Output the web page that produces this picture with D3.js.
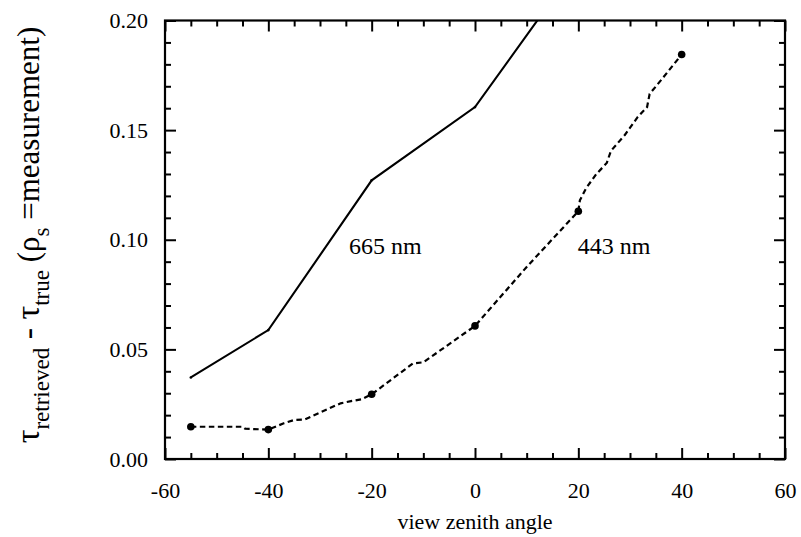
<!DOCTYPE html>
<html>
<head>
<meta charset="utf-8">
<script src="https://cdn.jsdelivr.net/npm/d3@7"></script>
<style>
  html, body { margin: 0; padding: 0; background: #fff; }
  svg { display: block; }
</style>
</head>
<body>
<svg id="chart" width="801" height="537"></svg>
<script>
// ---- data ----
const angles665 = [-55, -40, -20, 0, 20];
const values665 = [0.0372, 0.0588, 0.1271, 0.1605, 0.226];

const angles443 = [-55, -45, -44.5, -40, -37, -35, -33, -30, -26, -24, -22, -20, -12, -10, 0, 10, 20, 20.3, 21.5, 23.5, 25.5, 26.3, 29, 31.5, 33.3, 33.8, 36.5, 40];
const values443 = [0.0147, 0.0147, 0.0138, 0.0134, 0.0163, 0.0178, 0.0180, 0.0212, 0.0254, 0.0264, 0.0272, 0.0295, 0.0436, 0.0441, 0.0607, 0.0876, 0.113, 0.118, 0.1235, 0.1300, 0.1350, 0.1405, 0.1478, 0.1560, 0.1605, 0.1665, 0.1742, 0.1845];

const markerAngles443 = [-55, -40, -20, 0, 20, 40];
const markerValues443 = [0.0147, 0.0134, 0.0295, 0.0607, 0.113, 0.1845];

const xTicks = [-60, -40, -20, 0, 20, 40, 60];
const yTicks = [0.00, 0.05, 0.10, 0.15, 0.20];

const labels = ["665 nm", "443 nm"];
const labelAngles = [-24.4, 19.9];
const labelValues = [0.0935, 0.0935];

// ---- layout ----
const FONT = '"Liberation Serif", "Times New Roman", Times, "DejaVu Serif", serif';
const svg = d3.select("#chart");
const L = 165, R = 785, T = 20.5, B = 459;
const x = d3.scaleLinear().domain([-60, 60]).range([L, R]);
const y = d3.scaleLinear().domain([0, 0.2]).range([B, T]);

const fs = 22;
const majorLen = 11, minorLen = 6;
const xMinor = d3.range(-60, 61, 5).filter(v => !xTicks.includes(v));
const yMinor = d3.range(0, 21, 1).map(v => v / 100).filter(v => !yTicks.some(t => Math.abs(t - v) < 1e-9));

function styleAxis(g) {
  g.attr("font-family", null).attr("font-size", null);
  g.select(".domain").remove();
  g.selectAll(".tick line").attr("stroke", "#000").attr("stroke-width", 2);
  g.selectAll(".tick text").style("font-family", FONT).style("font-size", fs + "px").attr("fill", "#000");
}

// bottom
svg.append("g").attr("transform", `translate(0,${B})`)
  .call(d3.axisBottom(x).tickValues(xTicks).tickSize(-majorLen).tickPadding(majorLen + 12).tickFormat(d => String(d)))
  .call(styleAxis);
svg.append("g").attr("transform", `translate(0,${B})`)
  .call(d3.axisBottom(x).tickValues(xMinor).tickSize(-minorLen).tickFormat(""))
  .call(styleAxis);
// top
svg.append("g").attr("transform", `translate(0,${T})`)
  .call(d3.axisTop(x).tickValues(xTicks).tickSize(-majorLen).tickFormat(""))
  .call(styleAxis);
svg.append("g").attr("transform", `translate(0,${T})`)
  .call(d3.axisTop(x).tickValues(xMinor).tickSize(-minorLen).tickFormat(""))
  .call(styleAxis);
// left
svg.append("g").attr("transform", `translate(${L},0)`)
  .call(d3.axisLeft(y).tickValues(yTicks).tickSize(-majorLen).tickPadding(majorLen + 6).tickFormat(d3.format(".2f")))
  .call(styleAxis);
svg.append("g").attr("transform", `translate(${L},0)`)
  .call(d3.axisLeft(y).tickValues(yMinor).tickSize(-minorLen).tickFormat(""))
  .call(styleAxis);
// right
svg.append("g").attr("transform", `translate(${R},0)`)
  .call(d3.axisRight(y).tickValues(yTicks).tickSize(-majorLen).tickFormat(""))
  .call(styleAxis);
svg.append("g").attr("transform", `translate(${R},0)`)
  .call(d3.axisRight(y).tickValues(yMinor).tickSize(-minorLen).tickFormat(""))
  .call(styleAxis);

// frame
svg.append("rect").attr("x", L).attr("y", T).attr("width", R - L).attr("height", B - T)
  .attr("fill", "none").attr("stroke", "#000").attr("stroke-width", 2.2);

// clip
svg.append("clipPath").attr("id", "clip").append("rect")
  .attr("x", L).attr("y", T).attr("width", R - L).attr("height", B - T);

const line = d3.line().x(d => x(d[0])).y(d => y(d[1]));
const plot = svg.append("g").attr("clip-path", "url(#clip)");

const d665 = angles665.map((a, i) => [a, values665[i]]);
plot.append("path").attr("d", line(d665))
  .attr("fill", "none").attr("stroke", "#000").attr("stroke-width", 2.1);
plot.selectAll("circle.v665").data(d665.slice(0, 4)).enter().append("circle")
  .attr("cx", d => x(d[0])).attr("cy", d => y(d[1])).attr("r", 1.3).attr("fill", "#000");

const d443 = angles443.map((a, i) => [a, values443[i]]);
plot.append("path").attr("d", line(d443))
  .attr("fill", "none").attr("stroke", "#000").attr("stroke-width", 2.2)
  .attr("stroke-dasharray", "5.5,3.5");
plot.selectAll("circle.m443").data(markerAngles443.map((a, i) => [a, markerValues443[i]])).enter().append("circle")
  .attr("cx", d => x(d[0])).attr("cy", d => y(d[1])).attr("r", 3.8).attr("fill", "#000");

// curve labels
svg.selectAll("text.lab").data(labels).enter().append("text")
  .attr("x", (d, i) => x(labelAngles[i])).attr("y", (d, i) => y(labelValues[i]))
  .style("font-family", FONT).style("font-size", "24px").text(d => d);

// x axis title
svg.append("text").attr("x", x(0)).attr("y", 529).attr("text-anchor", "middle")
  .style("font-family", FONT).style("font-size", fs + "px").text("view zenith angle");

// y axis title
const yt = svg.append("text").attr("transform", "translate(39,235) rotate(-90)")
  .attr("text-anchor", "middle").style("font-family", FONT).style("font-size", "31px");
const parts = [
  ["τ", 0, 34], ["retrieved", 10, 23], [" - τ", -10, 34], ["true", 10, 23],
  [" (ρ", -10, 31], ["s", 10, 23], [" =measurement)", -10, 31]
];
parts.forEach(p => {
  yt.append("tspan").attr("dy", p[1]).style("font-size", p[2] + "px").text(p[0]);
});
</script>
</body>
</html>
